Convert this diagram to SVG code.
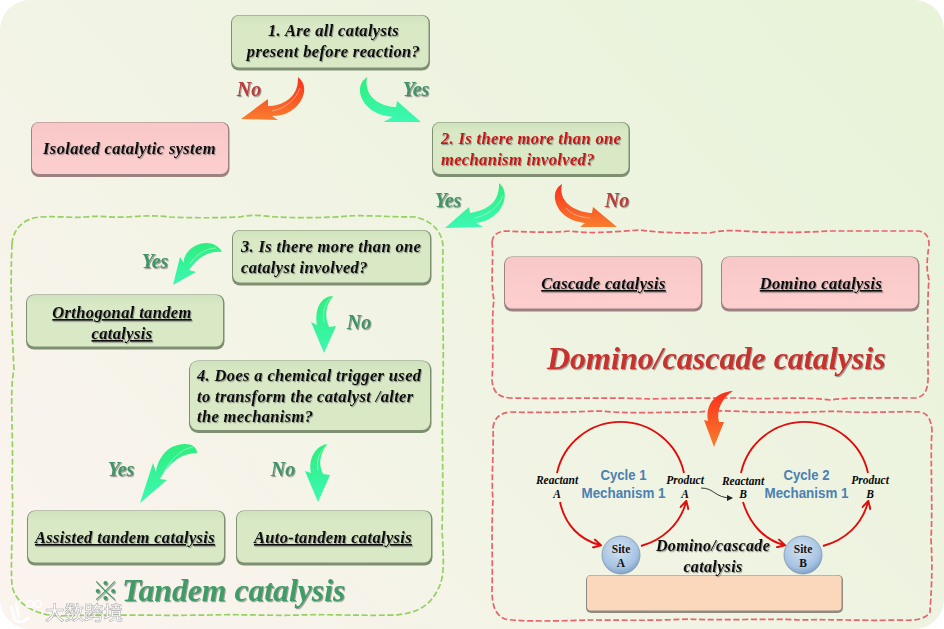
<svg xmlns="http://www.w3.org/2000/svg" width="944" height="629" viewBox="0 0 944 629">
<style>
.t{font-family:"Liberation Serif","Noto Sans CJK SC",serif;font-weight:bold;font-style:italic;font-size:16.5px;fill:#0a0a0a;letter-spacing:.35px;filter:url(#ts)}
.m{text-anchor:middle}
.u{text-decoration:underline}
.r{fill:#c81414}
.gl{font-size:20px;fill:#43936a;text-anchor:middle;letter-spacing:0}
.rl{font-size:20px;fill:#b83c3c;text-anchor:middle;letter-spacing:0}
.big{font-size:32px;letter-spacing:0}
.s{font-size:11.500px;text-anchor:middle;letter-spacing:0;filter:none}
.cy{font-family:"Liberation Sans",sans-serif;font-weight:bold;font-size:14.800px;fill:#4a80b2;text-anchor:middle}
.site{font-family:"Liberation Serif",serif;font-weight:bold;font-size:11.500px;fill:#111;text-anchor:middle}
.gb{fill:#7f8f72}.gt{fill:url(#gf)}
.pb{fill:#9c8282}.pt{fill:url(#pf)}
.gd{fill:none;stroke:#95d060;stroke-width:1.700;stroke-dasharray:6 2.600}
.rd{fill:none;stroke:#e8636b;stroke-width:1.700;stroke-dasharray:6 2.600}
.cyc{fill:none;stroke:#e00c0c;stroke-width:1.900}
.ag{fill:url(#ga)}.ar{fill:url(#ra)}
.hl{fill:none;stroke:#fff;stroke-width:1;opacity:.4}
</style>
<defs>
<linearGradient id="bgm" gradientUnits="userSpaceOnUse" x1="850" y1="0" x2="150" y2="640"><stop offset="0" stop-color="#e8f3da"/><stop offset=".65" stop-color="#f2f4e5"/><stop offset="1" stop-color="#faf3ee"/></linearGradient>
<linearGradient id="gf" x1="0" y1="0" x2="0" y2="1"><stop offset="0" stop-color="#d0e2bd"/><stop offset=".2" stop-color="#d9e9c6"/><stop offset="1" stop-color="#d9e9c6"/></linearGradient>
<linearGradient id="pf" x1="0" y1="0" x2="0" y2="1"><stop offset="0" stop-color="#f8c8c8"/><stop offset="1" stop-color="#fccfce"/></linearGradient>
<linearGradient id="ga" x1="0" y1="0" x2="0" y2="1"><stop offset="0" stop-color="#2dee7c"/><stop offset="1" stop-color="#3cf8b4"/></linearGradient>
<linearGradient id="ra" x1="0" y1="0" x2="0" y2="1"><stop offset="0" stop-color="#f92e1c"/><stop offset="1" stop-color="#f97e2e"/></linearGradient>
<radialGradient id="sf" cx=".45" cy=".35" r=".7"><stop offset="0" stop-color="#d5e3f3"/><stop offset=".7" stop-color="#a6c3e2"/><stop offset="1" stop-color="#7798bd"/></radialGradient>
<filter id="ts" x="-5%" y="-20%" width="110%" height="150%"><feDropShadow dx="1" dy="1.200" stdDeviation=".7" flood-color="#555" flood-opacity=".55"/></filter>
<filter id="sb" x="-5%" y="-5%" width="110%" height="110%"><feGaussianBlur stdDeviation=".6"/></filter>
<marker id="mr" markerWidth="10" markerHeight="10" refX="8" refY="5" orient="auto" markerUnits="userSpaceOnUse"><path d="M1,0.500L9,5L1,9.500" fill="none" stroke="#e00c0c" stroke-width="2"/></marker>
<marker id="mk" markerWidth="6" markerHeight="6" refX="5" refY="3" orient="auto" markerUnits="userSpaceOnUse"><path d="M0,0L6,3L0,6Z" fill="#222"/></marker>
</defs>

<rect width="944" height="629" fill="#fff"/>
<rect width="944" height="629" rx="30" fill="url(#bgm)"/>

<path id="group-tandem" class="gd" d="M12,244C13,228 25,218 40,217C60,216 72,218 85,217C100,215 112,218 128,217C140,216 155,215 170,217C190,218 215,218 240,217C252,214 262,216 276,217C295,218 330,218 348,216C365,215 390,217 415,217C430,220 442,230 443,246C442,300 444,340 443,380C441,420 444,470 442,530C444,560 444,575 440,585C432,604 420,613 395,615C360,616 330,614 300,615C270,616 240,614 210,615C160,616 110,614 60,616C30,615 14,600 12,585C10,560 14,520 12,480C14,440 9,390 14,370C12,330 10,290 12,244Z"/>
<path id="group-domino" class="rd" d="M492,242C493,235 497,232 505,231C530,232 550,233 570,231C590,234 610,232 640,230C660,233 680,233 710,233C725,229 740,231 760,232C790,233 810,232 830,231C860,231 890,231 918,231C926,232 929,236 929,245C927,260 926,268 929,280C927,300 928,340 928,370C929,390 925,397 915,398C880,398 850,397 830,400C800,396 770,400 740,398C710,398 680,398 650,399C610,397 570,399 510,398C498,397 493,392 492,380C494,350 491,320 494,300C490,280 494,260 492,242Z"/>
<path id="group-cycles" class="rd" d="M493,428C494,419 499,413 510,412C540,413 570,412 600,411C630,414 660,412 700,412C720,409 750,413 780,412C800,414 820,410 850,412C880,413 900,411 920,412C928,413 931,420 932,430C930,460 933,500 931,540C933,570 931,595 930,612C926,619 915,621 900,620C860,621 830,619 800,620C770,618 720,621 690,619C650,621 620,620 590,620C560,621 520,622 505,619C495,615 492,605 492,590C493,560 491,530 493,500C491,480 494,450 493,428Z"/>

<g id="node-q1"><rect class="gb" x="231" y="15" width="199" height="55.500" rx="8" filter="url(#sb)"/><rect class="gt" x="232" y="15.500" width="196.500" height="52" rx="7"/>
<text class="t m" x="333.500" y="36">1. Are all catalysts</text><text class="t m" x="333.500" y="57">present before reaction?</text></g>
<g id="node-isolated"><rect class="pb" x="31" y="122" width="198.500" height="55" rx="8" filter="url(#sb)"/><rect class="pt" x="32" y="122.500" width="196" height="51.500" rx="7"/>
<text class="t m" x="129.500" y="154">Isolated catalytic system</text></g>
<g id="node-q2"><rect class="gb" x="432" y="122" width="198" height="55" rx="8" filter="url(#sb)"/><rect class="gt" x="433" y="122.500" width="195.500" height="51.500" rx="7"/>
<text class="t r" x="441" y="144">2. Is there more than one</text><text class="t r" x="441" y="165">mechanism involved?</text></g>
<g id="node-q3"><rect class="gb" x="232" y="230" width="199.500" height="55.500" rx="8" filter="url(#sb)"/><rect class="gt" x="233" y="230.500" width="197" height="52" rx="7"/>
<text class="t" x="241" y="252">3. Is there more than one</text><text class="t" x="241" y="273">catalyst involved?</text></g>
<g id="node-orth"><rect class="gb" x="26" y="294.500" width="198.500" height="55" rx="8" filter="url(#sb)"/><rect class="gt" x="27" y="295" width="196" height="51.500" rx="7"/>
<text class="t m u" x="122" y="318">Orthogonal tandem</text><text class="t m u" x="122" y="339">catalysis</text></g>
<g id="node-q4"><rect class="gb" x="189" y="360.500" width="242.500" height="72.500" rx="9" filter="url(#sb)"/><rect class="gt" x="190" y="361" width="240" height="69" rx="8"/>
<text class="t" x="197" y="381">4. Does a chemical trigger used</text><text class="t" x="197" y="402">to transform the catalyst /alter</text><text class="t" x="197" y="422">the mechanism?</text></g>
<g id="node-assisted"><rect class="gb" x="27" y="510.500" width="198.500" height="55" rx="8" filter="url(#sb)"/><rect class="gt" x="28" y="511" width="196" height="51.500" rx="7"/>
<text class="t m u" x="125" y="543">Assisted tandem catalysis</text></g>
<g id="node-auto"><rect class="gb" x="236" y="510.500" width="196.500" height="55" rx="8" filter="url(#sb)"/><rect class="gt" x="237" y="511" width="194" height="51.500" rx="7"/>
<text class="t m u" x="333" y="543">Auto-tandem catalysis</text></g>
<g id="node-cascade"><rect class="pb" x="504" y="256.500" width="198.500" height="55" rx="8" filter="url(#sb)"/><rect class="pt" x="505" y="257" width="196" height="51.500" rx="7"/>
<text class="t m u" x="603.500" y="289">Cascade catalysis</text></g>
<g id="node-domino"><rect class="pb" x="721" y="256.500" width="198.500" height="55" rx="8" filter="url(#sb)"/><rect class="pt" x="722" y="257" width="196" height="51.500" rx="7"/>
<text class="t m u" x="821" y="289">Domino catalysis</text></g>
<g id="node-base"><rect x="586" y="575" width="257" height="38" rx="5" fill="#8f8a80" filter="url(#sb)"/><rect x="587" y="575.500" width="254.500" height="35" rx="4" fill="#fbd7bc"/></g>

<g id="connectors">
<path class="ar" d="M298,77C307,84 306,96 297,106C290,113 282,116 272,116L278,120L241,119L268,99L268,106C282,106 299,98 298,77Z"/>
<path class="hl" d="M272,111C284,109 296,100 300,88"/>
<path class="ag" d="M367,77C357,84 358,97 368,107C374,113 383,116 393,117L383,122L421,122L397,101L396,107C385,107 363,100 367,77Z"/>
<path class="ag" d="M499,183C508,190 506,204 497,213C491,219 484,222 476,223L483,227L445,228L469,207L470,213C483,211 500,205 499,183Z"/>
<path class="hl" d="M474,218C486,216 498,208 503,196"/>
<path class="ar" d="M562,184C552,190 553,203 562,213C568,219 576,222 585,223L580,227L617,227L593,207L592,213C581,213 557,205 562,184Z"/>
<path class="hl" d="M566,208C572,215 580,217 590,218"/>
<path class="ag" d="M222,252C218,243 205,240 195,246C187,250 183,258 184,263L180,257L173,285L196,272L189,270C195,262 205,250 222,252Z"/>
<path class="hl" d="M190,264C195,256 205,248 216,248"/>
<path class="ag" d="M333,296C322,296 314,308 317,325L311,322L324,353L336,326L329,327C324,315 326,305 333,296Z"/>
<path class="hl" d="M324,322C322,312 325,304 330,298"/>
<path class="ag" d="M197,453C197,444 185,441 172,447C163,452 157,462 156,472L153,463L140,503L167,480L160,479C166,468 178,453 197,453Z"/>
<path class="hl" d="M164,472C169,462 180,449 193,447"/>
<path class="ag" d="M327,444C316,446 308,458 311,473L305,471L318,502L330,475L323,474C318,463 320,455 327,444Z"/>
<path class="hl" d="M318,470C316,460 320,452 325,447"/>
<path class="ar" d="M733,391C716,392 705,404 708,421L704,420L714,447L724,422L719,422C716,410 722,398 733,391Z"/>
<path class="cyc" d="M557,473A65,65 0 0 1 684,473"/>
<path class="cyc" d="M741,473A65,65 0 0 1 868,473"/>
<path class="cyc" marker-end="url(#mr)" d="M560,502C565,525 580,540 600,545"/>
<path class="cyc" marker-end="url(#mr)" d="M641,546C662,540 680,525 686,502"/>
<path class="cyc" marker-end="url(#mr)" d="M743,502C750,525 765,540 784,545"/>
<path class="cyc" marker-end="url(#mr)" d="M823,546C845,540 862,525 868,502"/>
<path fill="none" stroke="#222" stroke-width=".9" marker-end="url(#mk)" d="M701,488C715,488 714,498 732,498"/>
</g>

<g id="labels">
<text class="t rl" x="249" y="96">No</text>
<text class="t gl" x="416" y="96">Yes</text>
<text class="t gl" x="448" y="207">Yes</text>
<text class="t rl" x="617" y="207">No</text>
<text class="t gl" x="155" y="268">Yes</text>
<text class="t gl" x="359" y="329">No</text>
<text class="t gl" x="121" y="476">Yes</text>
<text class="t gl" x="283" y="476">No</text>
<text class="t big" x="547" y="369" style="fill:#c8302e">Domino/cascade catalysis</text>
<text class="t big" x="92" y="601" style="fill:#3f9c66;font-size:31.700px"><tspan style="font-size:27px;font-style:normal">※</tspan><tspan x="122">Tandem catalysis</tspan></text>
</g>

<g id="cycle-labels">
<text class="t s" x="557" y="484">Reactant</text><text class="t s" x="557" y="498">A</text>
<text class="t s" x="685" y="484">Product</text><text class="t s" x="685" y="498">A</text>
<text class="t s" x="743" y="485">Reactant</text><text class="t s" x="743" y="498">B</text>
<text class="t s" x="870" y="484">Product</text><text class="t s" x="870" y="498">B</text>
<text class="cy" x="623.500" y="480" textLength="46" lengthAdjust="spacingAndGlyphs">Cycle 1</text><text class="cy" x="623.500" y="498" textLength="84" lengthAdjust="spacingAndGlyphs">Mechanism 1</text>
<text class="cy" x="806.500" y="480" textLength="46" lengthAdjust="spacingAndGlyphs">Cycle 2</text><text class="cy" x="806.500" y="498" textLength="84" lengthAdjust="spacingAndGlyphs">Mechanism 1</text>
</g>
<g id="node-site-a"><circle cx="621" cy="555" r="19" fill="url(#sf)" stroke="#7c94ad" stroke-width=".8"/><text class="site" x="621" y="553">Site</text><text class="site" x="621" y="567">A</text></g>
<g id="node-site-b"><circle cx="803" cy="555" r="19" fill="url(#sf)" stroke="#7c94ad" stroke-width=".8"/><text class="site" x="803" y="553">Site</text><text class="site" x="803" y="567">B</text></g>
<g id="label-domino-small"><text class="t m" x="713" y="551" style="font-size:16px">Domino/cascade</text><text class="t m" x="713" y="572" style="font-size:16px">catalysis</text></g>

<g id="watermark">
<path d="M11,606C14,612 13,618 15,620C19,623 25,622 29,617M16,602L19,618" fill="none" stroke="#fff" stroke-width="3" opacity=".9"/>
<circle cx="30" cy="604" r="3.500" fill="none" stroke="#fff" stroke-width="1.500" opacity=".9"/><circle cx="38" cy="604" r="3.500" fill="none" stroke="#fff" stroke-width="1.500" opacity=".9"/>
<text x="45" y="620" font-family="'Noto Sans CJK SC',sans-serif" font-size="19.500" font-weight="500" fill="#fff" stroke="#a5a5a5" stroke-width=".5" opacity=".95">大数跨境</text>
</g>
</svg>
